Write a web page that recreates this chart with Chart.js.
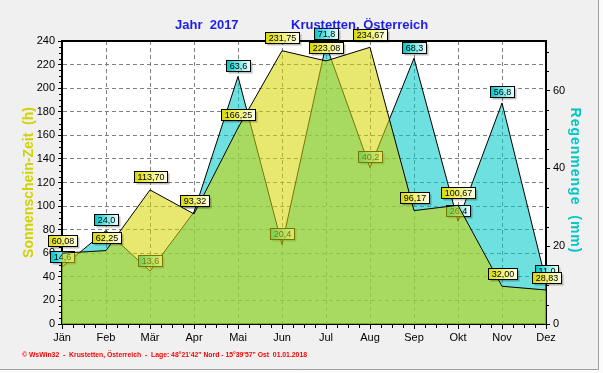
<!DOCTYPE html>
<html><head><meta charset="utf-8">
<script src="https://cdn.jsdelivr.net/npm/chart.js@4/dist/chart.umd.min.js"></script>
<style>html,body{margin:0;padding:0;background:#f0f0f0;overflow:hidden}canvas{display:block}</style>
</head><body>
<canvas id="c" width="603" height="373"></canvas>
<script>
// ---- data ----
const months = ['Jän','Feb','Mär','Apr','Mai','Jun','Jul','Aug','Sep','Okt','Nov','Dez'];
const sunshineHours = [60.08, 62.25, 113.70, 93.32, 166.25, 231.75, 223.08, 234.67, 96.17, 100.67, 32.00, 28.83];
const rainMm = [14.6, 24.0, 13.6, 28.8, 63.6, 20.4, 71.8, 40.2, 68.3, 26.4, 56.8, 11.0];
const titleYear = 'Jahr  2017';
const titlePlace = 'Krustetten, Österreich';
const leftAxisTitle = 'Sonnenschein-Zeit  (h)';
const rightAxisTitle = 'Regenmenge  (mm)';
const footerText = '\u00A9 WsWin32  -  Krustetten, Österreich  -  Lage: 48°21\'42" Nord - 15°39\'57" Ost  01.01.2018';
const leftMax = 240, leftStep = 20, rightStep = 20, mmPerHourRatio = 3.3;

const FONT = '"Liberation Sans", Arial, sans-serif';

function fmt(v, d){ return v.toFixed(d).replace('.', ','); }

function drawLabels(chart, dsIndex, decimals, colors, offset){
  const meta = chart.getDatasetMeta(dsIndex);
  const data = chart.data.datasets[dsIndex].data;
  const ctx = chart.ctx;
  ctx.save();
  ctx.font = '9px ' + FONT;
  meta.data.forEach((pt, i) => {
    const text = fmt(data[i], decimals);
    const tw = ctx.measureText(text).width;
    const w = Math.round(tw + 6), h = 11;
    const x = Math.round(pt.x - w / 2) + 0.5;
    const y = Math.round(pt.y - offset - h / 2) + 0.5;
    ctx.fillStyle = 'rgba(0,0,0,0.25)';
    ctx.fillRect(x + 2, y + 2, w, h);
    const g = ctx.createLinearGradient(x, 0, x + w, 0);
    g.addColorStop(0, colors[0]); g.addColorStop(0.4, colors[1]); g.addColorStop(1, colors[2]);
    ctx.fillStyle = g; ctx.fillRect(x, y, w, h);
    ctx.strokeStyle = '#000'; ctx.lineWidth = 1; ctx.strokeRect(x, y, w, h);
    ctx.fillStyle = '#000'; ctx.textAlign = 'center'; ctx.textBaseline = 'middle';
    ctx.fillText(text, x + w / 2, y + h / 2 + 0.5);
  });
  ctx.restore();
}

const decor = {
  id: 'decor',
  beforeDraw(chart){
    const ctx = chart.ctx, a = chart.chartArea;
    ctx.save();
    ctx.fillStyle = '#f0f0f0'; ctx.fillRect(0, 0, chart.width, chart.height);
    ctx.fillStyle = '#fbfbfb';
    ctx.fillRect(599, 0, chart.width - 599, chart.height);
    ctx.fillRect(0, 370, chart.width, chart.height - 370);
    ctx.strokeStyle = '#a0a0a0'; ctx.lineWidth = 1;
    ctx.beginPath(); ctx.moveTo(598.5, 0); ctx.lineTo(598.5, 369.5); ctx.lineTo(0, 369.5); ctx.stroke();
    ctx.fillStyle = '#ffffff'; ctx.fillRect(a.left, a.top, a.right - a.left, a.bottom - a.top);
    ctx.restore();
  },
  beforeDatasetsDraw(chart){
    const ctx = chart.ctx, a = chart.chartArea;
    const xs = chart.scales.x, ys = chart.scales.y, y1 = chart.scales.y1;
    ctx.save();
    ctx.strokeStyle = '#000'; ctx.lineWidth = 2;
    ctx.beginPath(); ctx.moveTo(a.left - 1, a.top); ctx.lineTo(a.right + 1, a.top); ctx.stroke();
    ctx.lineWidth = 1;
    ctx.beginPath();
    for (let i = 0; i < months.length - 1; i++) {
      for (let k = 1; k < 4; k++) {
        const px = Math.round(xs.getPixelForValue(i + k / 4)) + 0.5;
        ctx.moveTo(px, a.bottom); ctx.lineTo(px, a.bottom + 4);
      }
    }
    for (let v = 5; v < leftMax; v += 5) {
      if (v % leftStep === 0) continue;
      const py = Math.round(ys.getPixelForValue(v)) + 0.5;
      ctx.moveTo(a.left - 3, py); ctx.lineTo(a.left, py);
    }
    for (let v = 5; v < y1.max; v += 5) {
      if (v % rightStep === 0) continue;
      const py = Math.round(y1.getPixelForValue(v)) + 0.5;
      ctx.moveTo(a.right, py); ctx.lineTo(a.right + 3, py);
    }
    ctx.stroke();
    ctx.restore();
  },
  afterDatasetDraw(chart, args){
    if (args.index === 1) drawLabels(chart, 1, 1, ['#00c4c4', '#60e4e4', '#f0ffff'], 11);
    if (args.index === 0) drawLabels(chart, 0, 2, ['#d8d800', '#eeee60', '#ffffee'], 13);
  },
  afterDraw(chart){
    const ctx = chart.ctx, a = chart.chartArea;
    ctx.save();
    ctx.fillStyle = '#1e1ee6';
    ctx.font = 'bold 13px ' + FONT;
    ctx.textAlign = 'left'; ctx.textBaseline = 'alphabetic';
    ctx.fillText(titleYear, 175, 28.5);
    ctx.fillText(titlePlace, 291, 28.5);

    const cy = (a.top + a.bottom) / 2;
    ctx.font = 'bold 14px ' + FONT;
    ctx.textAlign = 'center';
    ctx.save();
    ctx.translate(33.3, cy);
    ctx.rotate(-Math.PI / 2);
    ctx.fillStyle = '#d2d200';
    ctx.fillText(leftAxisTitle, 0, 0);
    ctx.restore();
    ctx.save();
    ctx.translate(570.5, cy - 2);
    ctx.rotate(Math.PI / 2);
    ctx.fillStyle = '#00c6c6';
    try { ctx.letterSpacing = '1px'; } catch(e) {}
    ctx.fillText(rightAxisTitle, 0, 0);
    ctx.restore();

    ctx.font = 'bold 8px ' + FONT;
    ctx.fillStyle = '#ff0000';
    ctx.textAlign = 'left';
    const tw = ctx.measureText(footerText).width;
    ctx.translate(22, 357);
    ctx.scale(285 / tw, 1);
    ctx.fillText(footerText, 0, 0);
    ctx.restore();
  }
};

const gridCommon = { color: '#808080', lineWidth: 1, tickColor: '#000', tickBorderDash: [], tickWidth: 1 };
const tickFont = { family: FONT, size: 11 };

new Chart(document.getElementById('c'), {
  type: 'line',
  data: {
    labels: months,
    datasets: [
      { label: 'Sonnenschein', data: sunshineHours, yAxisID: 'y', fill: 'origin',
        backgroundColor: 'rgba(214,214,0,0.56)', borderColor: '#000', borderWidth: 1,
        pointRadius: 0, pointHoverRadius: 0, tension: 0 },
      { label: 'Regen', data: rainMm, yAxisID: 'y1', fill: 'origin',
        backgroundColor: 'rgba(0,200,200,0.57)', borderColor: '#000', borderWidth: 1,
        pointRadius: 0, pointHoverRadius: 0, tension: 0 }
    ]
  },
  options: {
    responsive: false, devicePixelRatio: 1, animation: false, events: [],
    layout: { padding: { left: 0, right: 0, top: 41, bottom: 0 } },
    plugins: { legend: { display: false }, tooltip: { enabled: false }, title: { display: false } },
    scales: {
      x: { type: 'category', offset: false,
        grid: Object.assign({}, gridCommon, { tickLength: 5 }),
        border: { display: true, color: '#000', width: 2, dash: [4, 3] },
        ticks: { color: '#000', font: tickFont, autoSkip: false, maxRotation: 0, padding: 2 },
        afterFit(s){ s.height = 49; } },
      y: { position: 'left', min: 0, max: leftMax,
        grid: Object.assign({}, gridCommon, { tickLength: 4 }),
        border: { display: true, color: '#000', width: 2, dash: [4, 3] },
        ticks: { stepSize: leftStep, color: '#000', font: tickFont, padding: 3 },
        afterFit(s){ s.width = 62; } },
      y1: { position: 'right', min: 0, max: leftMax / mmPerHourRatio,
        grid: Object.assign({}, gridCommon, { tickLength: 4, drawOnChartArea: false }),
        border: { display: true, color: '#000', width: 2 },
        ticks: { stepSize: rightStep, color: '#000', font: tickFont, padding: 3, includeBounds: false },
        afterFit(s){ s.width = 57; } }
    }
  },
  plugins: [decor]
});
</script>
</body></html>
